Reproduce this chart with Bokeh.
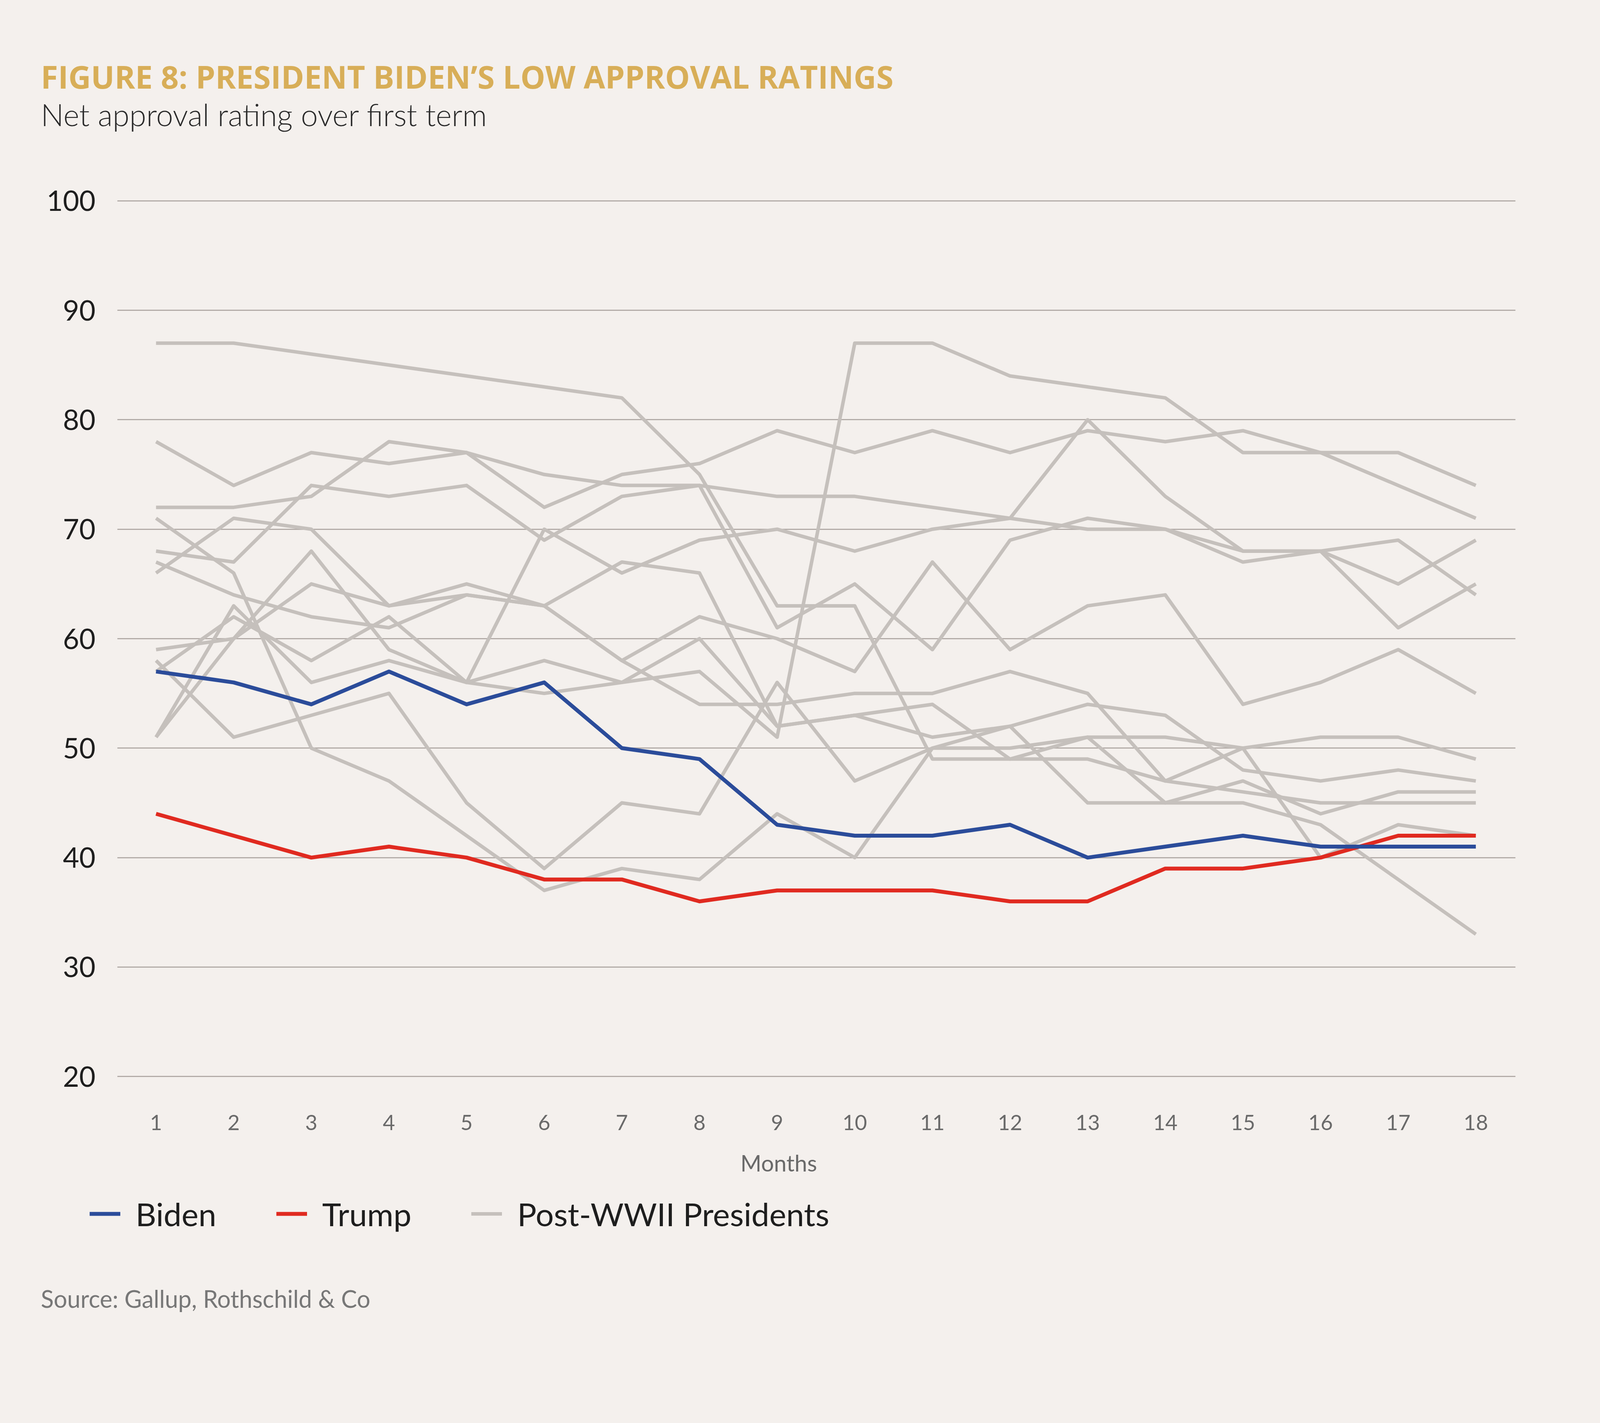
from bokeh.plotting import figure
from bokeh.models import FixedTicker, Grid, Label, Legend, LegendItem, Range1d
from bokeh.embed import file_html
from bokeh.resources import INLINE

# ---------------- data ----------------
months = list(range(1, 19))
month_labels = [str(m) for m in months]
y_ticks = [20, 30, 40, 50, 60, 70, 80, 90, 100]

biden = [57, 56, 54, 57, 54, 56, 50, 49, 43, 42, 42, 43, 40, 41, 42, 41, 41, 41]
trump = [44, 42, 40, 41, 40, 38, 38, 36, 37, 37, 37, 36, 36, 39, 39, 40, 42, 42]

truman = [87, 87, 86, 85, 84, 83, 82, 75, 63, 63, 49, 49, 49, 47, 46, 45, 45, 45]
eisenhower = [68, 67, 74, 73, 74, 69, 73, 74, 61, 65, 59, 69, 71, 70, 67, 68, 69, 64]
kennedy = [72, 72, 73, 78, 77, 72, 75, 76, 79, 77, 79, 77, 79, 78, 79, 77, 74, 71]
johnson = [78, 74, 77, 76, 77, 75, 74, 74, 73, 73, 72, 71, 70, 70, 68, 68, 65, 69]
nixon = [59, 60, 65, 63, 64, 63, 58, 62, 60, 57, 67, 59, 63, 64, 54, 56, 59, 55]
ford = [71, 66, 50, 47, 42, 37, 39, 38, 44, 40, 50, 50, 51, 45, 47, 44, 46, 46]
carter = [66, 71, 70, 63, 65, 63, 67, 66, 52, 53, 54, 49, 51, 51, 50, 40, 43, 42]
reagan = [51, 60, 68, 59, 56, 55, 56, 60, 52, 53, 51, 52, 45, 45, 45, 43, 38, 33]
bush_sr = [51, 63, 56, 58, 56, 70, 66, 69, 70, 68, 70, 71, 80, 73, 68, 68, 61, 65]
clinton = [58, 51, 53, 55, 45, 39, 45, 44, 56, 47, 50, 52, 54, 53, 48, 47, 48, 47]
bush_jr = [57, 62, 58, 62, 56, 58, 56, 57, 51, 87, 87, 84, 83, 82, 77, 77, 77, 74]
obama = [67, 64, 62, 61, 64, 63, 58, 54, 54, 55, 55, 57, 55, 47, 50, 51, 51, 49]

post_wwii = {
    "Truman": truman, "Eisenhower": eisenhower, "Kennedy": kennedy,
    "Johnson": johnson, "Nixon": nixon, "Ford": ford, "Carter": carter,
    "Reagan": reagan, "Bush Sr": bush_sr, "Clinton": clinton,
    "Bush Jr": bush_jr, "Obama": obama,
}

title_text = "FIGURE 8: PRESIDENT BIDEN\u2019S LOW APPROVAL RATINGS"
subtitle_text = "Net approval rating over first term"
source_text = "Source: Gallup, Rothschild & Co"

# ---------------- geometry / style ----------------
BG = "#F4F0ED"
GREY = "#C5C0BC"
BLUE = "#2B4C9A"
RED = "#E02A20"
GOLD = "#D8AE58"
FONT = "Lato"
LIGHT_FONT = "'Lato Light', Lato, sans-serif"
TITLE_FONT = "'Open Sans', Lato, sans-serif"

W, H = 4075, 3512
# plotting area inside the canvas (px)
PL, PR, PT, PB = 300, 3879, 511, 2759
X_LO, X_HI = 0.502, 18.51      # x extent of the plotting area (data)
Y_LO, Y_HI = 19.9, 100.1       # y extent of the plotting area (data)
sx = (PR - PL) / (X_HI - X_LO)
sy = (PB - PT) / (Y_HI - Y_LO)
x_range = Range1d(X_LO - PL / sx, X_HI + (W - PR) / sx)
y_range = Range1d(Y_LO - (H - PB) / sy, Y_HI + PT / sy)


def xd(px):  # canvas px -> data x
    return X_LO + (px - PL) / sx


def yd(px):  # canvas px (from top) -> data y
    return Y_HI + (PT - px) / sy


p = figure(width=W, height=H, output_backend="svg", toolbar_location=None,
           x_range=x_range, y_range=y_range,
           min_border_left=0, min_border_right=0, min_border_top=0, min_border_bottom=0)
p.background_fill_color = BG
p.border_fill_color = BG
p.outline_line_color = None

# ---- axes, drawn at the edges of the plotting area ----
p.xaxis.fixed_location = Y_LO
p.yaxis.fixed_location = X_LO
p.xaxis.bounds = (0.0, 18.04)
p.xaxis.ticker = FixedTicker(ticks=months)
p.xaxis.major_label_overrides = {m: s for m, s in zip(months, month_labels)}
p.yaxis.ticker = FixedTicker(ticks=y_ticks)
for ax in (p.xaxis, p.yaxis):
    ax.axis_line_color = None
    ax.major_tick_line_color = None
    ax.minor_tick_line_color = None
p.yaxis.major_label_text_font = FONT
p.yaxis.major_label_text_font_size = "72px"
p.yaxis.major_label_text_color = "#1E1E1E"
p.yaxis.major_label_standoff = 50
p.xaxis.major_label_text_font = FONT
p.xaxis.major_label_text_font_size = "54px"
p.xaxis.major_label_text_color = "#6A6A6A"
p.xaxis.major_label_standoff = 89
p.xaxis.axis_label = "Months"
p.xaxis.axis_label_text_font = FONT
p.xaxis.axis_label_text_font_size = "58px"
p.xaxis.axis_label_text_font_style = "normal"
p.xaxis.axis_label_text_color = "#6A6A6A"
p.xaxis.axis_label_standoff = 46

# ---- horizontal grid limited to the plotting area ----
p.xgrid.grid_line_color = None
GRID_COLOR = "#B3ACA8"
if "cross_bounds" in Grid.properties():
    p.ygrid.ticker = FixedTicker(ticks=y_ticks)
    p.ygrid.cross_bounds = (X_LO, X_HI)
    p.ygrid.grid_line_color = GRID_COLOR
    p.ygrid.grid_line_width = 3
else:
    p.ygrid.grid_line_color = None
    p.multi_line([[X_LO, X_HI] for _ in y_ticks], [[t, t] for t in y_ticks],
                 line_color=GRID_COLOR, line_width=3)

# ---- series ----
grey_renderers = []
for name, vals in post_wwii.items():
    grey_renderers.append(p.line(months, vals, line_color=GREY, line_width=9, line_join="round"))
r_trump = p.line(months, trump, line_color=RED, line_width=10, line_join="round")
r_biden = p.line(months, biden, line_color=BLUE, line_width=10, line_join="round")

# ---- legend ----
legend = Legend(items=[
    LegendItem(label="Biden", renderers=[r_biden]),
    LegendItem(label="Trump", renderers=[r_trump]),
    LegendItem(label="Post-WWII Presidents", renderers=[grey_renderers[0]]),
], location=(229, 355), orientation="horizontal",
    background_fill_alpha=0, border_line_color=None,
    padding=0, margin=0, spacing=153, glyph_width=79, glyph_height=40,
    label_standoff=39, label_text_font=FONT, label_text_font_size="82px",
    label_text_color="#1E1E1E")
p.add_layout(legend, "center")

# ---- texts ----
p.add_layout(Label(x=xd(104), y=yd(195), text=title_text, text_font=TITLE_FONT,
                   text_font_style="bold", text_font_size="80px", text_color=GOLD,
                   text_baseline="alphabetic"))
p.add_layout(Label(x=xd(104), y=yd(292), text=subtitle_text, text_font=LIGHT_FONT,
                   text_font_size="78px", text_color="#2A2A2A", text_baseline="alphabetic"))
p.add_layout(Label(x=xd(104), y=yd(3325), text=source_text, text_font=FONT,
                   text_font_size="61px", text_color="#777777", text_baseline="alphabetic"))

html = file_html(p, INLINE)
html = html.replace("</head>", "<style>html, body {background: %s;}</style>\n</head>" % BG, 1)
open("out.html", "w").write(html)
